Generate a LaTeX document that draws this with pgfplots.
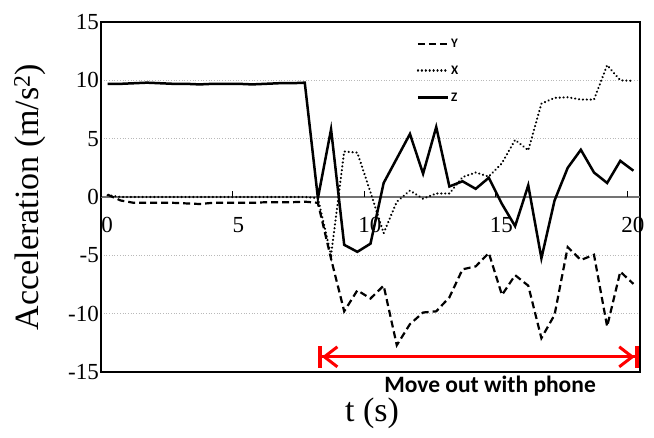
\documentclass[border=0pt]{standalone}
\usepackage{pgfplots}
\pgfplotsset{compat=1.18}
\usepackage{pgfplotstable}
\usepackage{fontspec}
\setmainfont{Liberation Serif}
\newfontfamily\carlito{Carlito}
\usetikzlibrary{arrows.meta}

\pgfplotstableread{
t     Y      X      Z
0.25  0.2    0.15   9.7
0.75  -0.3   0.0    9.7
1.25  -0.5   0.0    9.75
1.75  -0.5   0.0    9.8
2.25  -0.5   0.0    9.75
2.75  -0.5   0.0    9.7
3.25  -0.55  0.0    9.7
3.75  -0.6   0.0    9.65
4.25  -0.5   0.0    9.7
4.75  -0.5   0.0    9.7
5.25  -0.5   0.0    9.7
5.75  -0.5   0.0    9.65
6.25  -0.45  0.0    9.7
6.75  -0.45  0.0    9.75
7.25  -0.45  0.0    9.75
7.75  -0.4   0.0    9.8
8.25  -0.5   -0.1   -0.1
8.75  -5.3   -5.0   5.8
9.25  -9.8   3.9    -4.1
9.75  -8.0   3.8    -4.7
10.25 -8.7   0.4    -4.0
10.75 -7.6   -3.1   1.2
11.25 -12.7  -0.4   3.3
11.75 -10.9  0.55   5.4
12.25 -9.9   -0.15  2.0
12.75 -9.8   0.3    6.0
13.25 -8.6   0.3    0.9
13.75 -6.2   1.7    1.35
14.25 -5.95  2.1    0.7
14.75 -4.8   1.75   1.65
15.25 -8.4   2.9    -0.6
15.75 -6.7   4.9    -2.5
16.25 -7.6   4.0    1.0
16.75 -12.1  8.0    -5.25
17.25 -10.1  8.5    -0.3
17.75 -4.3   8.55   2.5
18.25 -5.4   8.35   4.05
18.75 -4.95  8.35   2.1
19.25 -11.1  11.3   1.2
19.75 -6.4   10.0   3.1
20.25 -7.45  9.95   2.25
}\data

\begin{document}
\begin{tikzpicture}
\useasboundingbox (-101bp,-66bp) rectangle (553bp,372bp);
\begin{axis}[
  at={(0,0)}, anchor=south west,
  width=539bp, height=350bp, scale only axis,
  xmin=0, xmax=20.5, ymin=-15, ymax=15,
  xtick=\empty,
  ytick={-15,-10,-5,5,10,15},
  yticklabels={-15,-10,-5,5,10,15},
  extra y ticks={0}, extra y tick labels={0},
  extra y tick style={grid=major, major grid style={draw=gray!90!black, line width=2bp, solid}},
  ymajorgrids,
  major grid style={draw=gray!55, line width=0.7bp, dotted},
  major tick length=0pt,
  axis line style={line width=1.2bp},
  yticklabel style={font=\fontsize{23bp}{27bp}\selectfont, inner sep=2bp},
  legend style={at={(axis cs:12.0,13.75)}, anchor=north west, draw=none, fill=none,
    font=\carlito\bfseries\fontsize{13bp}{15bp}\selectfont, row sep=13bp, inner sep=0pt},
  legend cell align=left,
  legend image code/.code={\draw[#1] (0bp,0bp) -- (30bp,0bp);},
]
\addplot[black, line width=2.2bp, dash pattern=on 7bp off 4bp] table[x=t,y=Y]{\data};
\addlegendentry{Y}
\addplot[black, line width=2.3bp, dash pattern=on 0.1bp off 3.8bp, line cap=round] table[x=t,y=X]{\data};
\addlegendentry{X}
\addplot[black, line width=2.5bp] table[x=t,y=Z]{\data};
\addlegendentry{Z}
\draw[red, line width=3bp,
  {Bar[width=22bp,line width=4bp]Straight Barb[length=13bp,width=20bp,line width=3bp]}-{Straight Barb[length=13bp,width=20bp,line width=3bp]Bar[width=22bp,line width=4bp]}]
  (axis cs:8.25,-13.7) -- (axis cs:20.45,-13.7);
\end{axis}
\begin{axis}[
  at={(0,0)}, anchor=south west,
  width=539bp, height=350bp, scale only axis,
  xmin=0, xmax=20.5, ymin=-15, ymax=15,
  axis x line=middle, axis y line=none,
  axis line style={draw=none},
  xtick={0,5,10,15,20}, xticklabels={0,5,10,15,20},
  xticklabel style={font=\fontsize{23bp}{27bp}\selectfont, inner sep=0pt, anchor=north, yshift=-20bp, xshift=6bp},
  tick align=inside, major tick length=6bp,
  xtick style={black, line width=0.6bp},
]
\end{axis}
\node[font=\carlito\bfseries\fontsize{23.5bp}{27bp}\selectfont] at (389bp,-14bp) {Move out with phone};
\node[font=\fontsize{34bp}{40bp}\selectfont] at (271bp,-41bp) {t (s)};
\node[rotate=90, font=\fontsize{34bp}{40bp}\selectfont] at (-71bp,175bp) {Acceleration (m/s\textsuperscript{2})};
\end{tikzpicture}
\end{document}
